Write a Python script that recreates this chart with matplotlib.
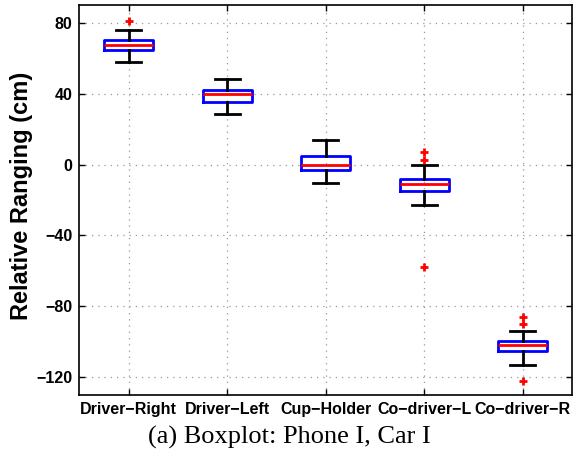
import matplotlib
matplotlib.use("Agg")
import matplotlib.pyplot as plt

categories = ["Driver\u2212Right", "Driver\u2212Left", "Cup\u2212Holder", "Co\u2212driver\u2212L", "Co\u2212driver\u2212R"]
whisker_low = [58.1, 28.7, -10.5, -22.9, -112.8]
q1 = [64.4, 35.4, -2.9, -14.9, -105.0]
median = [67.4, 39.6, -0.2, -11.2, -102.0]
q3 = [70.1, 42.3, 4.8, -8.4, -99.8]
whisker_high = [76.0, 48.4, 14.1, 0.0, -93.7]
outliers = [[81.0], [], [], [7.3, 2.7, -57.9], [-86.1, -89.7, -121.9]]
yticks = [80, 40, 0, -40, -80, -120]

fig = plt.figure(figsize=(5.76, 4.62), dpi=100)
ax = fig.add_axes([0.138, 0.145, 0.855, 0.844])

stats = []
for i, name in enumerate(categories):
    stats.append(dict(label=name, whislo=whisker_low[i], q1=q1[i], med=median[i],
                      q3=q3[i], whishi=whisker_high[i], fliers=outliers[i]))

ax.bxp(stats, positions=range(1, len(categories) + 1), widths=0.5,
       boxprops=dict(color="#0000ff", linewidth=2),
       medianprops=dict(color="#ff0000", linewidth=2),
       whiskerprops=dict(color="black", linewidth=2),
       capprops=dict(color="black", linewidth=2),
       flierprops=dict(marker="+", markeredgecolor="#ff0000", markersize=6,
                       markeredgewidth=2, linestyle="none"))

ax.set_xlim(0.5, 5.5)
ax.set_ylim(-130, 90)
ax.set_yticks(yticks)
ax.set_yticklabels([str(v).replace("-", "\u2212") for v in yticks])
ax.set_xticks(range(1, len(categories) + 1))
ax.set_xticklabels(categories)
ax.grid(True, linestyle=(0, (1, 4)), color="#999999", linewidth=0.9)
ax.set_axisbelow(True)
ax.tick_params(direction="in", top=True, right=True, length=4, width=1, pad=5)
for lab in ax.get_xticklabels() + ax.get_yticklabels():
    lab.set_fontweight("bold")
    lab.set_fontsize(11.5)
    lab.set_family("Liberation Sans")
for s in ax.spines.values():
    s.set_linewidth(1.2)

ax.set_ylabel("Relative Ranging (cm)", fontsize=17, fontweight="bold",
              family="Liberation Sans")
ax.yaxis.set_label_coords(-0.094, 0.51)
fig.text(0.503, 0.054, "(a) Boxplot: Phone I, Car I", ha="center", va="center",
         fontsize=19, family="Liberation Serif")

fig.savefig("out.png", dpi=100)
